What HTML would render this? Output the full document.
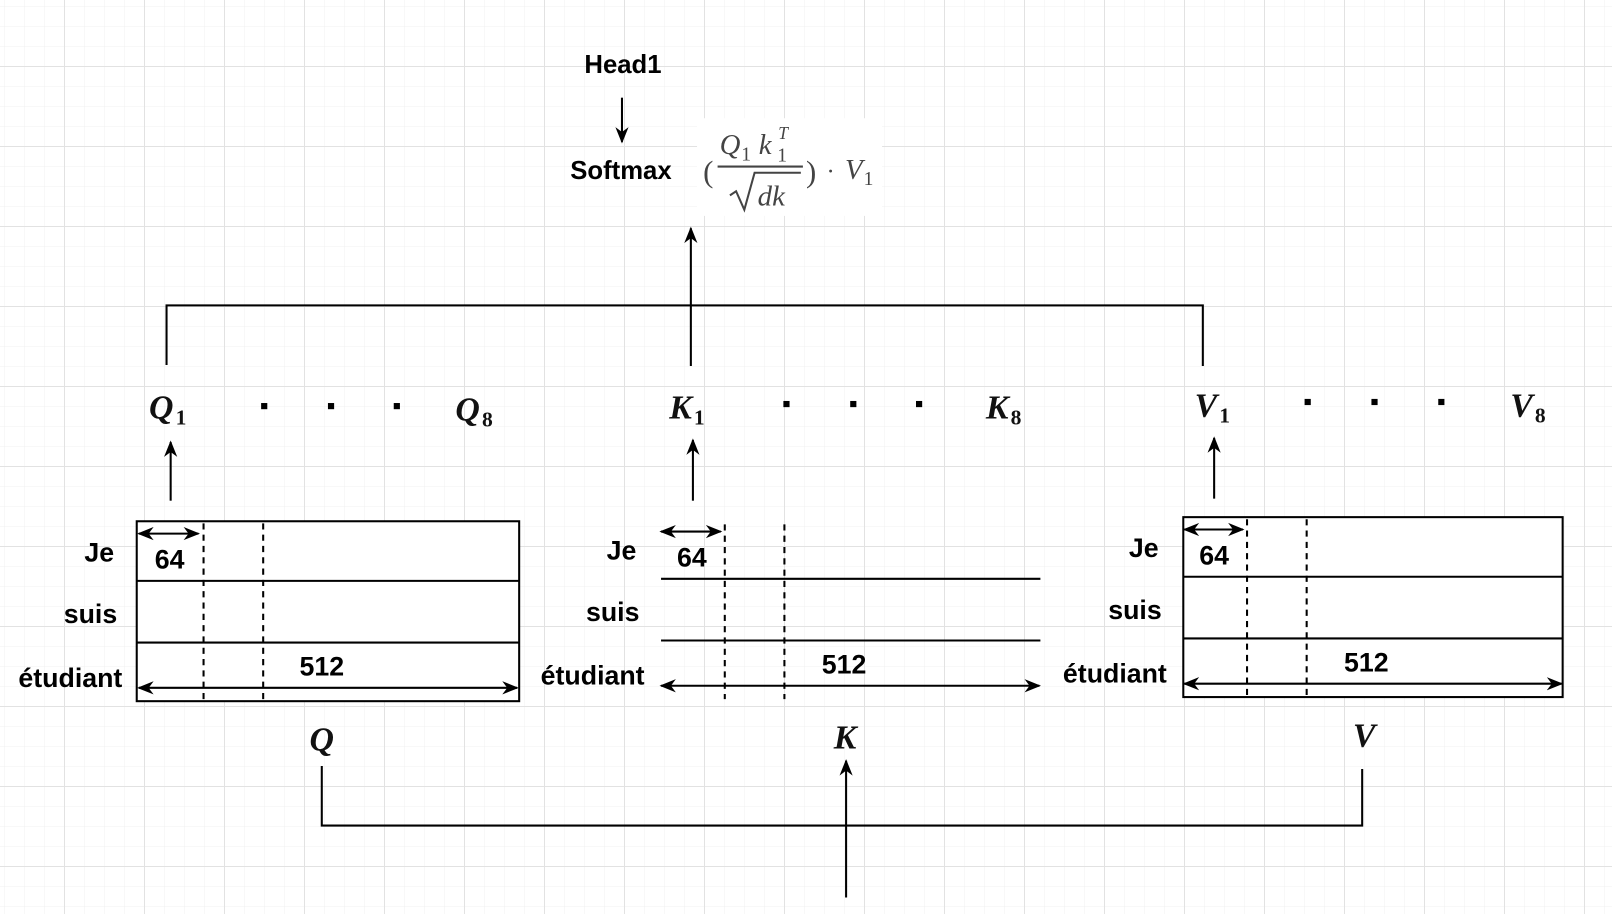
<!DOCTYPE html>
<html><head><meta charset="utf-8"><style>
html,body{margin:0;padding:0;background:#fff;width:1612px;height:914px;overflow:hidden}
svg{display:block}
</style></head><body>
<svg width="1612" height="914" xmlns="http://www.w3.org/2000/svg">
<defs>
<pattern id="mn" width="20" height="20" patternUnits="userSpaceOnUse" x="4" y="6">
<path d="M0 0H20M0 0V20" stroke="#f0f0f0" stroke-width="1" fill="none"/></pattern>
<pattern id="mj" width="80" height="80" patternUnits="userSpaceOnUse" x="64" y="66">
<path d="M0 0.5H80M0.5 0V80" stroke="#e2e2e2" stroke-width="1" fill="none"/></pattern>
<marker id="b" viewBox="0 0 10 10" refX="9" refY="5" markerWidth="16" markerHeight="16" orient="auto-start-reverse" markerUnits="userSpaceOnUse">
<path d="M0 1L10 5L0 9L3 5Z" fill="#000"/></marker>
</defs>
<rect width="1612" height="914" fill="url(#mn)"/>
<rect width="1612" height="914" fill="url(#mj)"/>
<svg x="0" y="0" width="1612" height="914" viewBox="0 0 1568 889" preserveAspectRatio="none">
<g font-family="Liberation Sans, sans-serif" font-weight="bold" font-size="25" fill="#000">
<text x="606" y="71" text-anchor="middle">Head1</text>
<text x="604" y="174" text-anchor="middle">Softmax</text>
</g>
<line x1="605" y1="95" x2="605" y2="138" stroke="#000" stroke-width="2" marker-end="url(#b)"/>
<rect x="678" y="115" width="180" height="95" fill="#fff"/>
<g font-family="Liberation Serif, serif" fill="#444">
<text x="684" y="177" font-size="30">(</text>
<text x="700" y="150" font-size="28" font-style="italic">Q</text>
<text x="721" y="156" font-size="19">1</text>
<text x="738" y="150" font-size="28" font-style="italic">k</text>
<text x="757" y="135" font-size="17" font-style="italic">T</text>
<text x="756" y="157" font-size="19">1</text>
<line x1="698" y1="162" x2="781" y2="162" stroke="#444" stroke-width="2"/>
<path d="M710 190 L716 186 L724 204 L734 168 L779 168" stroke="#444" stroke-width="2" fill="none"/>
<text x="737" y="200" font-size="28" font-style="italic">dk</text>
<text x="784" y="177" font-size="30">)</text>
<text x="804" y="174" font-size="24">·</text>
<text x="822" y="174" font-size="28" font-style="italic">V</text>
<text x="840" y="180" font-size="19">1</text>
</g>
<g stroke="#000" stroke-width="2" fill="none">
<line x1="672" y1="356" x2="672" y2="222" marker-end="url(#b)"/>
<path d="M162 355V297H1171M1170 297V356"/>
<line x1="166" y1="487" x2="166" y2="430" marker-end="url(#b)"/>
<line x1="674" y1="487" x2="674" y2="428" marker-end="url(#b)"/>
<line x1="1181" y1="485" x2="1181" y2="426" marker-end="url(#b)"/>
<path d="M313 745V803H1325V748"/>
<line x1="823" y1="873" x2="823" y2="740" marker-end="url(#b)"/>
</g>
<g font-family="Liberation Serif, serif" font-weight="bold" font-style="italic" fill="#111" font-size="33">
<text x="145" y="407">Q<tspan font-size="21" font-style="normal" dx="2" dy="6">1</tspan></text>
<text x="443" y="409">Q<tspan font-size="21" font-style="normal" dx="2" dy="6">8</tspan></text>
<text x="651" y="407">K<tspan font-size="21" font-style="normal" dx="2" dy="6">1</tspan></text>
<text x="959" y="407">K<tspan font-size="21" font-style="normal" dx="2" dy="6">8</tspan></text>
<text x="1162" y="405">V<tspan font-size="21" font-style="normal" dx="2" dy="6">1</tspan></text>
<text x="1469" y="405">V<tspan font-size="21" font-style="normal" dx="2" dy="6">8</tspan></text>
<text x="313" y="730" text-anchor="middle">Q</text>
<text x="822" y="728" text-anchor="middle">K</text>
<text x="1327" y="726" text-anchor="middle">V</text>
</g>
<g fill="#000">
<rect x="254" y="392" width="6" height="6"/><rect x="319" y="392" width="6" height="6"/><rect x="383" y="392" width="6" height="6"/>
<rect x="762" y="390" width="6" height="6"/><rect x="827" y="390" width="6" height="6"/><rect x="891" y="390" width="6" height="6"/>
<rect x="1269" y="388" width="6" height="6"/><rect x="1334" y="388" width="6" height="6"/><rect x="1399" y="388" width="6" height="6"/>
</g>
<!-- Q -->
<g transform="translate(0,0)">
<rect x="133" y="507" width="372" height="175" fill="#fff" stroke="#000" stroke-width="2"/>
<path d="M133 565H505M133 625H505" stroke="#000" stroke-width="2"/>
<path d="M198 509V682M256 509V682" stroke="#000" stroke-width="2" stroke-dasharray="6,5"/>
<line x1="135" y1="519" x2="193" y2="519" stroke="#000" stroke-width="2" marker-start="url(#b)" marker-end="url(#b)"/>
<line x1="135" y1="669" x2="503" y2="669" stroke="#000" stroke-width="2" marker-start="url(#b)" marker-end="url(#b)"/>
<g font-family="Liberation Sans, sans-serif" font-weight="bold" font-size="26">
<text x="165" y="553" text-anchor="middle">64</text>
<text x="313" y="657" text-anchor="middle">512</text>
<text x="111" y="546" text-anchor="end">Je</text>
<text x="114" y="606" text-anchor="end">suis</text>
<text x="119" y="668" text-anchor="end">étudiant</text>
</g></g>
<!-- K -->
<g transform="translate(508,-2)">
<path d="M135 565H504M135 625H504" stroke="#000" stroke-width="2"/>
<path d="M197 512V682M255 512V682" stroke="#000" stroke-width="2" stroke-dasharray="6,5"/>
<line x1="135" y1="519" x2="193" y2="519" stroke="#000" stroke-width="2" marker-start="url(#b)" marker-end="url(#b)"/>
<line x1="135" y1="669" x2="503" y2="669" stroke="#000" stroke-width="2" marker-start="url(#b)" marker-end="url(#b)"/>
<g font-family="Liberation Sans, sans-serif" font-weight="bold" font-size="26">
<text x="165" y="553" text-anchor="middle">64</text>
<text x="313" y="657" text-anchor="middle">512</text>
<text x="111" y="546" text-anchor="end">Je</text>
<text x="114" y="606" text-anchor="end">suis</text>
<text x="119" y="668" text-anchor="end">étudiant</text>
</g></g>
<!-- V -->
<g transform="translate(1016,-4)">
<rect x="135" y="507" width="369" height="175" fill="#fff" stroke="#000" stroke-width="2"/>
<path d="M135 565H504M135 625H504" stroke="#000" stroke-width="2"/>
<path d="M197 509V682M255 509V682" stroke="#000" stroke-width="2" stroke-dasharray="6,5"/>
<line x1="136" y1="519" x2="193" y2="519" stroke="#000" stroke-width="2" marker-start="url(#b)" marker-end="url(#b)"/>
<line x1="136" y1="669" x2="503" y2="669" stroke="#000" stroke-width="2" marker-start="url(#b)" marker-end="url(#b)"/>
<g font-family="Liberation Sans, sans-serif" font-weight="bold" font-size="26">
<text x="165" y="553" text-anchor="middle">64</text>
<text x="313" y="657" text-anchor="middle">512</text>
<text x="111" y="546" text-anchor="end">Je</text>
<text x="114" y="606" text-anchor="end">suis</text>
<text x="119" y="668" text-anchor="end">étudiant</text>
</g></g>
</svg>
</svg>
</body></html>
